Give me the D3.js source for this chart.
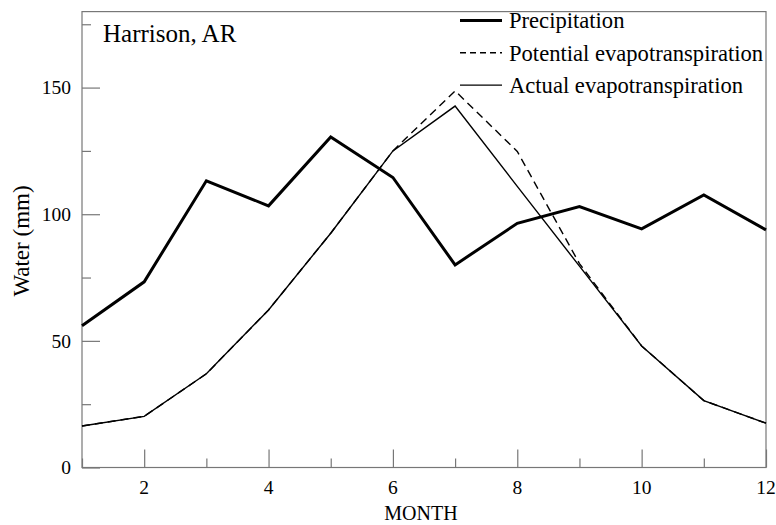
<!DOCTYPE html>
<html><head><meta charset="utf-8">
<script src="https://cdn.jsdelivr.net/npm/d3@7"></script>
<style>body{margin:0;background:#fff}svg{display:block}</style>
</head><body><svg id="c" width="776" height="525"></svg>
<script>
const months = [1,2,3,4,5,6,7,8,9,10,11,12];
const precipitation = [56,73.3,113.2,103.3,130.5,114.5,80,96.4,103,94.2,107.6,93.8];
const potentialET = [16.4,20.2,37,62.2,92.5,125,148.7,124.8,80.5,48,26.4,17.5];
const actualET = [16.4,20.2,37,62.2,92.5,125,142.7,111,79.5,48,26.4,17.5];
const xTicks = [2,4,6,8,10,12];
const yTicks = [0,50,100,150];
const seriesNames = ["Precipitation","Potential evapotranspiration","Actual evapotranspiration"];
const title = "Harrison, AR";

const FONT = "'Liberation Serif', 'Times New Roman', Tinos, 'Nimbus Roman', 'DejaVu Serif', serif";
const svg = d3.select("#c").attr("font-family",FONT);
const L=82,R=766,T=11.6,B=467.5;
const x = d3.scaleLinear().domain([1,12]).range([L,R]);
const y = d3.scaleLinear().domain([0,180]).range([B,T]);

svg.append("rect").attr("x",L).attr("y",T).attr("width",R-L).attr("height",B-T)
  .attr("fill","none").attr("stroke","#777").attr("stroke-width",1.2);

const yAxis = d3.axisRight(y).tickValues(d3.range(0,176,25)).tickSize(0).tickFormat("");
const gy = svg.append("g").attr("transform",`translate(${L},0)`).call(yAxis);
gy.select(".domain").remove();
gy.selectAll(".tick line").attr("x2",d=>d%50===0?18:9).attr("stroke","#777").attr("stroke-width",1.2);
svg.append("g").selectAll("text").data(yTicks).join("text")
  .attr("font-family",FONT).attr("x",71).attr("y",d=>y(d)).attr("dy","0.35em").attr("text-anchor","end")
  .attr("font-size",19.5).text(d=>d);

const xAxis = d3.axisTop(x).tickValues(months).tickSize(0).tickFormat("");
const gx = svg.append("g").attr("transform",`translate(0,${B})`).call(xAxis);
gx.select(".domain").remove();
gx.selectAll(".tick line").attr("y2",d=>d%2===0?-18:-9).attr("stroke","#777").attr("stroke-width",1.2);
svg.append("g").selectAll("text").data(xTicks).join("text")
  .attr("font-family",FONT).attr("x",d=>x(d)).attr("y",494).attr("text-anchor","middle")
  .attr("font-size",19.5).text(d=>d);

svg.append("text").attr("font-family",FONT).attr("x",421).attr("y",520).attr("text-anchor","middle").attr("font-size",20).text("MONTH");
svg.append("text").attr("font-family",FONT).attr("transform","translate(29,241) rotate(-90)").attr("text-anchor","middle").attr("font-size",23).text("Water (mm)");

svg.append("text").attr("font-family",FONT).attr("x",103).attr("y",42).attr("font-size",25).text(title);

const line = d3.line().x((d,i)=>x(months[i])).y(d=>y(d));
svg.append("path").datum(potentialET).attr("d",line).attr("fill","none").attr("stroke","#000").attr("stroke-width",1.4).attr("stroke-dasharray","8,5");
svg.append("path").datum(actualET).attr("d",line).attr("fill","none").attr("stroke","#000").attr("stroke-width",1.4);
svg.append("path").datum(precipitation).attr("d",line).attr("fill","none").attr("stroke","#000").attr("stroke-width",3);

const styles = [{w:3,dash:null},{w:1.4,dash:"6,4"},{w:1.4,dash:null}];
const lg = svg.append("g");
seriesNames.forEach((n,i)=>{
  const yy = 20.5 + i*32.3;
  lg.append("line").attr("x1",460).attr("x2",502).attr("y1",yy).attr("y2",yy)
    .attr("stroke","#000").attr("stroke-width",styles[i].w).attr("stroke-dasharray",styles[i].dash);
  lg.append("text").attr("font-family",FONT).attr("x",509).attr("y",yy).attr("dy","0.35em").attr("font-size",22.6).text(n);
});
</script></body></html>
